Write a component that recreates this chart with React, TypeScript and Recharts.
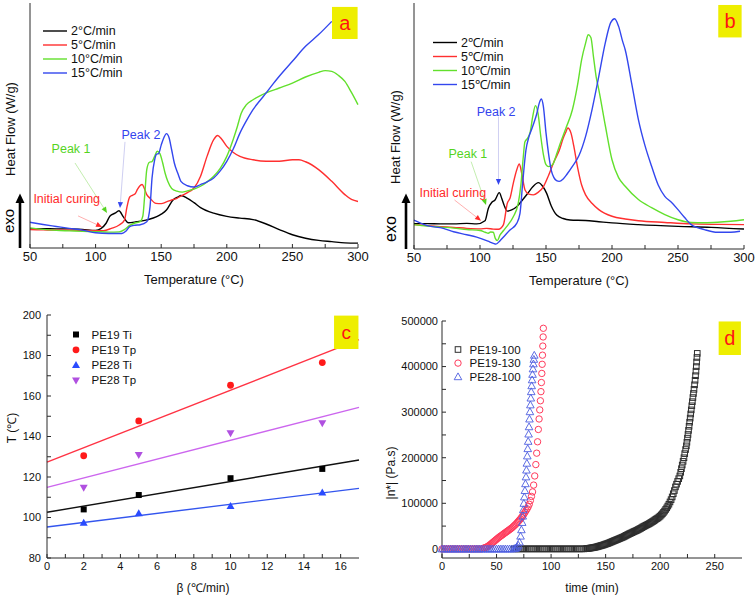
import React from 'react';
import {
  LineChart,
  Line,
  ComposedChart,
  ScatterChart,
  Scatter,
  XAxis,
  YAxis,
  ReferenceLine,
  ReferenceDot,
  ReferenceArea,
} from 'recharts';

type Pair = [number, number];

const FONT = '"Liberation Sans", Arial, Helvetica, sans-serif';
const INK = '#111111';
const FRAME = '#2a2a2a';
const YELLOW = '#eeee00';
const TAG_RED = '#ff1414';

// ---------- panels a / b : DSC heat flow (relative units 0-100) ----------
const tempTicks = [50, 75, 100, 125, 150, 175, 200, 225, 250, 275, 300];
const tempMajor = [50, 100, 150, 200, 250, 300];
const rateNamesA = ['2°C/min', '5°C/min', '10°C/min', '15°C/min'];
const rateNamesB = ['2℃/min', '5℃/min', '10℃/min', '15℃/min'];
const rateColors = ['#000000', '#ff2f2f', '#62e02c', '#3347ee'];

const a2: Pair[] = [
  [50, 7.8], [60, 7.9], [70, 7.8], [80, 7.8], [90, 7.6], [100, 7.2], [104, 7.9], [108, 10.1], [111, 13.1],
  [114.8, 14.2], [117.8, 15.2], [121, 12.8], [125, 10.3], [131, 10.7], [140, 11.6], [146.6, 12.8], [150, 13.8],
  [154, 15.5], [159, 19.6], [163, 20.9], [165, 21.4], [170, 20.3], [175, 18.5], [180, 16.5], [190, 14.2],
  [200, 12.9], [210, 12.2], [220, 11.6], [230, 9.8], [240, 7.5], [250, 5.4], [260, 4.0], [270, 3.1],
  [280, 2.6], [290, 2.1], [300, 2.0],
];
const a5: Pair[] = [
  [50, 7.5], [60, 7.4], [70, 7.3], [80, 7.3], [90, 7.2], [100, 7.1], [106, 7.1], [112, 8.0], [118, 9.4],
  [122, 11.4], [124, 17.0], [126, 20.8], [128, 21.5], [130, 22.0], [132, 24.0], [134, 25.5], [135.5, 25.9],
  [137, 24.5], [139, 21.8], [141.5, 20.3], [146, 18.2], [150, 18.1], [154, 18.8], [158, 19.6], [162, 20.3],
  [166, 21.5], [170, 22.6], [175, 24.5], [180, 29.3], [185, 37.5], [190, 44.2], [193, 45.9], [196, 44.5],
  [200, 41.5], [205, 39.0], [210, 37.4], [220, 36.0], [230, 35.4], [240, 35.4], [250, 36.0], [255, 36.0],
  [260, 35.2], [270, 32.0], [280, 27.2], [290, 21.8], [295, 19.8], [300, 19.0],
];
const a10: Pair[] = [
  [50, 8.2], [60, 7.6], [70, 7.2], [80, 7.0], [90, 6.8], [100, 6.7], [110, 6.5], [118, 6.6], [122, 7.5],
  [126, 9.2], [130, 10.2], [134, 10.8], [136, 13.0], [137.5, 22.0], [139, 32.0], [141, 35.0], [143, 35.3],
  [145, 37.4], [147, 39.5], [149, 38.5], [151, 35.0], [153, 30.5], [155, 27.2], [158, 24.3], [162, 23.2],
  [166, 22.8], [170, 23.3], [175, 24.0], [180, 25.2], [185, 27.0], [190, 29.3], [195, 32.5], [200, 37.4],
  [205, 44.5], [208, 49.5], [211, 55.0], [215, 58.5], [220, 60.5], [230, 63.3], [240, 65.3], [250, 67.3],
  [260, 69.8], [270, 71.7], [275, 72.4], [280, 72.1], [285, 70.5], [290, 68.0], [295, 63.5], [300, 58.5],
];
const a15: Pair[] = [
  [50, 10.5], [60, 9.6], [70, 8.8], [80, 8.0], [90, 7.3], [100, 6.2], [110, 5.9], [120, 5.9], [123, 6.8],
  [126, 8.7], [130, 9.3], [134, 9.5], [139, 10.7], [141.5, 16.9], [143, 28.5], [145, 36.0], [146.5, 38.3],
  [148, 38.5], [150, 42.0], [152, 45.0], [154, 46.7], [156, 45.0], [158, 40.0], [160, 34.7], [163, 30.0],
  [165, 27.2], [170, 25.4], [175, 24.9], [180, 25.9], [185, 27.0], [190, 28.6], [195, 31.5], [200, 35.4],
  [205, 40.5], [210, 46.9], [215, 52.0], [220, 56.5], [225, 60.0], [230, 63.3], [235, 66.8], [240, 70.1],
  [250, 76.2], [260, 82.3], [270, 87.1], [280, 92.5],
];

const b2: Pair[] = [
  [50, 10.3], [60, 10.3], [70, 10.2], [80, 10.2], [90, 10.4], [97.5, 10.2], [103.8, 11.5], [106.3, 16.5],
  [109, 19.0], [111.4, 19.9], [114.6, 22.9], [116.5, 20.5], [118.2, 17.9], [120.7, 15.4], [124, 15.9],
  [127.8, 17.2], [132, 19.8], [136, 22.5], [140, 25.3], [144.2, 27.0], [147.5, 25.5], [150.5, 22.6],
  [154, 17.5], [158.1, 13.8], [163, 12.4], [168.2, 11.8], [180, 11.6], [190, 11.1], [200, 10.6], [220, 9.9],
  [250, 9.2], [275, 8.8], [300, 8.1],
];
const b5: Pair[] = [
  [50, 9.9], [60, 9.5], [70, 9.1], [80, 8.8], [90, 8.4], [100, 8.2], [105, 8.4], [110, 8.1], [114, 8.0],
  [117.7, 9.8], [120.7, 18.6], [122.7, 20.6], [125.2, 26.7], [127.8, 32.1], [129.8, 34.6], [131.6, 30.8],
  [134.1, 24.0], [137, 22.3], [140.4, 22.0], [144, 23.0], [148, 25.3], [152, 30.0], [156, 35.5], [160, 40.0],
  [163, 45.0], [165, 47.5], [166.5, 49.2], [169, 47.0], [171, 42.0], [174, 33.0], [177, 26.0], [180, 22.0],
  [185, 18.5], [190, 16.0], [200, 13.3], [210, 12.2], [220, 11.5], [240, 10.8], [260, 10.2], [280, 10.0],
  [300, 9.9],
];
const b10: Pair[] = [
  [50, 9.9], [60, 9.3], [70, 8.9], [80, 8.5], [90, 7.9], [100, 7.5], [104, 6.8], [106.3, 6.4], [108, 6.9],
  [110.1, 6.8], [111.6, 4.3], [113.1, 3.4], [115.2, 5.7], [118, 7.6], [120.2, 9.1], [125.2, 13.1],
  [129, 18.6], [131.1, 26.7], [132.8, 37.5], [134, 43.5], [136, 45.0], [138, 47.5], [140, 54.0],
  [142, 58.3], [144, 55.0], [146, 46.0], [148, 38.5], [150, 34.3], [152, 33.5], [155, 34.3], [158, 38.5],
  [160, 41.7], [165, 49.0], [170, 56.6], [174, 67.0], [177, 77.0], [180, 83.7], [182, 87.1], [184, 86.0],
  [186, 78.0], [188, 70.0], [190, 64.8], [195, 50.0], [200, 36.3], [205, 29.0], [210, 25.5], [220, 20.1],
  [230, 16.8], [240, 14.0], [250, 11.9], [260, 10.8], [270, 10.7], [280, 10.9], [290, 11.3], [300, 11.9],
];
const b15: Pair[] = [
  [50, 11.7], [55, 10.5], [60, 9.5], [72.2, 8.4], [80, 7.0], [90, 5.8], [97.5, 4.8], [106, 3.2],
  [110.1, 2.3], [112.1, 2.0], [115.2, 3.4], [118, 5.0], [122.7, 7.7], [127.8, 10.4], [130.3, 14.5],
  [132.3, 26.7], [134.8, 40.2], [137, 45.5], [139, 48.5], [141, 51.5], [143, 55.0], [145, 59.5],
  [146.5, 61.0], [148, 58.0], [150, 47.2], [152, 38.5], [154, 32.0], [156, 29.0], [158, 27.8], [160, 27.5],
  [163, 28.5], [166, 30.5], [170, 33.6], [175, 38.0], [180, 45.8], [185, 57.0], [190, 70.2], [195, 84.0],
  [199, 92.0], [202, 93.6], [205, 90.5], [208, 84.5], [210, 81.0], [215, 67.0], [220, 52.6], [225, 42.0],
  [230, 33.6], [235, 26.0], [240, 21.4], [245, 19.0], [250, 16.0], [255, 12.8], [260, 9.9], [270, 7.9],
  [280, 6.8], [290, 6.8], [297, 7.2],
];

// ---------- panel c : onset / peak temperatures vs heating rate ----------
const betaTicks = [0, 1, 2, 3, 4, 5, 6, 7, 8, 9, 10, 11, 12, 13, 14, 15, 16];
const betaMajor = [0, 2, 4, 6, 8, 10, 12, 14, 16];
const tAxisTicks = [80, 90, 100, 110, 120, 130, 140, 150, 160, 170, 180, 190, 200];
const tAxisMajor = [80, 100, 120, 140, 160, 180, 200];
const betaValues = [2, 5, 10, 15];
const pe19Ti = [104.0, 111.1, 119.4, 124.0];
const pe19Tp = [130.5, 147.7, 165.3, 176.5];
const pe28Ti = [97.4, 102.1, 105.7, 112.4];
const pe28Tp = [114.7, 130.9, 141.6, 146.5];
const fitEnds = [0, 17];
const fit19Ti = [102.6, 128.4];
const fit19Tp = [127.3, 187.8];
const fit28Ti = [95.3, 114.4];
const fit28Tp = [114.9, 154.4];
const kinNames = ['PE19 Ti', 'PE19 Tp', 'PE28 Ti', 'PE28 Tp'];

// ---------- panel d : complex viscosity vs time ----------
const timeTicks = [0, 25, 50, 75, 100, 125, 150, 175, 200, 225, 250];
const timeMajor = [0, 50, 100, 150, 200, 250];
const etaTicks = [0, 50000, 100000, 150000, 200000, 250000, 300000, 350000, 400000, 450000, 500000];
const etaMajor = [0, 100000, 200000, 300000, 400000, 500000];
const viscNames = ['PE19-100', 'PE19-130', 'PE28-100'];

const pe19_100: Pair[] = [
  [66, 0], [68, 0], [70, 0], [72, 0], [74, 0], [76, 0], [78, 0], [80, 0], [82, 0], [84, 0], [86, 0], [88, 0],
  [90, 0], [92, 0], [94, 0], [96, 0], [98, 0], [100, 0], [102, 0], [104, 0], [106, 0], [108, 0], [110, 0],
  [112, 0], [114, 0], [116, 0], [118, 0], [120, 0], [122, 0], [124, 0], [126, 0], [128, 0], [130, 0],
  [132, 500], [133, 800], [134, 1000], [135, 1400], [136, 1800], [137, 2200], [138, 2500], [139, 3000],
  [140, 3500], [141, 4000], [142, 4500], [143, 5200], [144, 6000], [145, 6600], [146, 7300], [147, 8000],
  [148, 8700], [149, 9600], [150, 10500], [151, 11200], [152, 12000], [153, 13000], [154, 14000],
  [155, 15000], [156, 16000], [157, 17000], [158, 18000], [159, 19000], [160, 20000], [161, 21000],
  [162, 22000], [163, 23000], [164, 24000], [165, 25000], [166, 26000], [167, 27200], [168, 28500],
  [169, 29800], [170, 31000], [171, 32200], [172, 33500], [173, 34500], [174, 35500], [175, 36800],
  [176, 38000], [177, 39000], [178, 40000], [179, 41200], [180, 42500], [181, 43800], [182, 45000],
  [183, 46500], [184, 48000], [185, 49200], [186, 50500], [187, 51800], [188, 53000], [189, 54200],
  [190, 55500], [191, 57000], [192, 58500], [193, 60000], [194, 61500], [195, 63200], [196, 65000],
  [197, 66500], [198, 68000], [199, 70000], [200, 72000], [201, 74500], [202, 77000], [203, 80000],
  [204, 83000], [205, 86500], [206, 90000], [207, 94000], [208, 98000], [209, 103000], [210, 108000],
  [211, 114000], [212, 121000], [213, 128000], [214, 136000], [215, 142000], [216, 148000], [217, 154000],
  [218, 160000], [218.8, 168000], [219.5, 176000], [220.2, 184000], [221, 192000], [221.8, 200000],
  [222.5, 209000], [223.3, 218000], [224, 226000], [224.5, 234000], [225, 243000], [225.5, 251000],
  [226, 260000], [226.5, 269000], [227, 278000], [227.5, 287000], [228, 296000], [228.5, 305000],
  [229, 314000], [229.5, 323000], [230, 332000], [230.5, 341000], [231, 350000], [231.5, 360000],
  [232, 370000], [232.4, 380000], [232.8, 390000], [233.1, 400000], [233.4, 410000], [233.7, 420000],
  [234, 429000],
];
const pe19_130: Pair[] = [
  [0, 0], [2, 0], [4, 0], [6, 0], [8, 0], [10, 0], [12, 0], [14, 0], [16, 0], [18, 0], [20, 0], [22, 0],
  [24, 0], [26, 0], [28, 0], [30, 0], [32, 0], [34, 0], [36, 0], [38, 1500], [39, 2200], [40, 3000],
  [41, 4200], [42, 5500], [43, 7200], [44, 9000], [45, 11000], [46, 13000], [47, 15000], [48, 17000],
  [49, 19000], [50, 21000], [51, 23000], [52, 25000], [53, 26800], [54, 28500], [55, 30200], [56, 32000],
  [57, 33800], [58, 35500], [59, 37200], [60, 39000], [61, 40700], [62, 42500], [63, 44200], [64, 46000],
  [65, 48200], [66, 50500], [67, 52700], [68, 55000], [69, 57700], [70, 60500], [71, 63200], [72, 66000],
  [73, 69200], [74, 72500], [75, 76200], [76, 80000], [77, 84000], [78, 88000], [79, 92500], [80, 98000],
  [81, 106000], [82, 115000], [83, 125000], [84, 140000], [85, 160000], [86, 185000], [86.8, 210000],
  [87.6, 235000], [88.3, 262000], [89, 285000], [89.6, 305000], [90.2, 325000], [90.7, 345000],
  [91.1, 365000], [91.5, 385000], [91.8, 405000], [92.1, 425000], [92.4, 445000], [92.7, 465000],
  [92.9, 484000],
];
const pe28_100: Pair[] = [
  [0, 0], [2, 0], [4, 0], [6, 0], [8, 0], [10, 0], [12, 0], [14, 0], [16, 0], [18, 0], [20, 0], [22, 0],
  [24, 0], [26, 0], [28, 0], [30, 0], [32, 0], [34, 0], [36, 0], [38, 0], [40, 0], [42, 0], [44, 0],
  [46, 0], [48, 0], [50, 0], [52, 0], [54, 0], [56, 0], [58, 0], [60, 0], [62, 0], [64, 0], [66, 500],
  [67, 1200], [68, 2000], [69, 4000], [70, 8000], [71, 15000], [72, 28000], [72.8, 42000], [73.5, 58000],
  [74, 72000], [74.5, 86000], [75, 100000], [75.5, 114000], [76, 128000], [76.5, 143000], [77, 158000],
  [77.4, 173000], [77.8, 188000], [78.2, 204000], [78.6, 220000], [79, 236000], [79.4, 252000],
  [79.8, 268000], [80.2, 285000], [80.6, 301000], [81, 316000], [81.4, 331000], [81.8, 345000],
  [82.2, 358000], [82.6, 371000], [83, 383000], [83.4, 395000], [83.8, 406000], [84.2, 416000],
  [84.6, 425000],
];

const toXY = (pairs: Pair[]) => pairs.map(([x, y]) => ({ x, y }));
const zipXY = (xs: number[], ys: number[]) => xs.map((x, i) => ({ x, y: ys[i] }));
const onlyMajor = (majors: number[]) => (v: number) => (majors.includes(v) ? String(v) : '');

const tickFont = (size: number) => ({ fontSize: size, fill: INK, fontFamily: FONT });

// thin annotation arrow with a coloured head
const arrowShape = (stem: string, head: string) => (p: any) => {
  const { x1, y1, x2, y2 } = p;
  const a = Math.atan2(y2 - y1, x2 - x1);
  const bx = x2 - 6 * Math.cos(a);
  const by = y2 - 6 * Math.sin(a);
  const s = Math.sin(a) * 2.6;
  const c = Math.cos(a) * 2.6;
  return (
    <g>
      <line x1={x1} y1={y1} x2={bx} y2={by} stroke={stem} strokeWidth={1} />
      <polygon points={`${x2},${y2} ${bx - s},${by + c} ${bx + s},${by - c}`} fill={head} />
    </g>
  );
};

const textShape = (text: string, color: string, size: number) => (p: any) => (
  <text x={p.cx} y={p.cy} fill={color} fontSize={size} fontFamily={FONT} textAnchor="middle" dominantBaseline="central">
    {text}
  </text>
);

type Note = { text: string; color: string; at: Pair; from: Pair; to: Pair; stem: string };

const notesA: Note[] = [
  { text: 'Initial curing', color: '#ff2a2a', at: [78, 20], from: [86.6, 13.1], to: [104.9, 8.6], stem: '#ffb0b0' },
  { text: 'Peak 1', color: '#55d41e', at: [81.3, 40.4], from: [84.3, 34.7], to: [108.7, 14.3], stem: '#c4eeb0' },
  { text: 'Peak 2', color: '#3344ee', at: [134.6, 46.1], from: [122.4, 43.3], to: [118.6, 16.3], stem: '#cfcff2' },
];
const notesB: Note[] = [
  { text: 'Initial curing', color: '#ff2a2a', at: [79.5, 22.9], from: [80.7, 19.9], to: [100.8, 11.5], stem: '#ffb0b0' },
  { text: 'Peak 1', color: '#55d41e', at: [90.8, 38.6], from: [93.3, 35.5], to: [104.6, 17.9], stem: '#c4eeb0' },
  { text: 'Peak 2', color: '#3344ee', at: [112.2, 55.6], from: [114, 53.8], to: [114, 26.0], stem: '#cfcff2' },
];

type DscProps = {
  curves: Pair[][];
  names: string[];
  tag: string;
  tagBox: [number, number, number, number];
  yAxisWidth: number;
  right: number;
  bottom: number;
  legendX: number;
  legendY: number;
  notes: Note[];
  exoX: number;
  exoText: Pair;
  exoSize: number;
  title: Pair;
};

function DscPanel({ curves, names, tag, tagBox, yAxisWidth, right, bottom, legendX, legendY, notes, exoX, exoText, exoSize, title }: DscProps) {
  const plotBottom = 300 - bottom - 40;
  return (
    <LineChart width={378} height={300} margin={{ top: 3, right, bottom, left: 0 }}>
      <XAxis
        type="number"
        dataKey="x"
        domain={[50, 300]}
        ticks={tempTicks}
        interval={0}
        tickFormatter={onlyMajor(tempMajor)}
        tickSize={-4}
        tickMargin={7.5}
        height={40}
        axisLine={{ stroke: FRAME }}
        tickLine={{ stroke: FRAME }}
        tick={tickFont(13)}
        label={{ value: 'Temperature (°C)', position: 'insideBottom', offset: 4, fill: INK, fontSize: 13, fontFamily: FONT }}
      />
      <XAxis xAxisId="top" orientation="top" type="number" domain={[50, 300]} height={0} tick={false} tickLine={false} axisLine={{ stroke: FRAME }} />
      <YAxis type="number" domain={[0, 100]} width={yAxisWidth} tick={false} tickLine={false} axisLine={{ stroke: FRAME }} />
      <YAxis yAxisId="right" orientation="right" type="number" domain={[0, 100]} width={0} tick={false} tickLine={false} axisLine={{ stroke: FRAME }} />
      {curves.map((c, i) => (
        <Line
          key={names[i]}
          data={toXY(c)}
          dataKey="y"
          type="monotone"
          stroke={rateColors[i]}
          strokeWidth={1.4}
          dot={false}
          isAnimationActive={false}
        />
      ))}
      {notes.map((n) => (
        <ReferenceLine
          key={`arrow-${n.text}`}
          segment={[{ x: n.from[0], y: n.from[1] }, { x: n.to[0], y: n.to[1] }]}
          shape={arrowShape(n.stem, n.color)}
        />
      ))}
      {notes.map((n) => (
        <ReferenceDot key={`note-${n.text}`} x={n.at[0]} y={n.at[1]} r={0} shape={textShape(n.text, n.color, 12.5)} />
      ))}
      <ReferenceArea
        x1={tagBox[0]}
        x2={tagBox[1]}
        y1={tagBox[2]}
        y2={tagBox[3]}
        fill={YELLOW}
        fillOpacity={1}
        stroke="none"
        zIndex={1000}
        label={{ value: tag, position: 'center', fill: TAG_RED, fontSize: 20, fontFamily: FONT }}
      />
      {/* legend */}
      {names.map((name, i) => (
        <g key={`lg-${name}`}>
          <line x1={legendX} x2={legendX + 24} y1={legendY + i * 14} y2={legendY + i * 14} stroke={rateColors[i]} strokeWidth={1.4} />
          <text x={legendX + 28} y={legendY + i * 14} dominantBaseline="central" fontSize={12.5} fontFamily={FONT} fill={INK}>
            {name}
          </text>
        </g>
      ))}
      {/* axis title and exo arrow */}
      <text transform={`translate(${title[0]},${title[1]}) rotate(-90)`} textAnchor="middle" dominantBaseline="central" fontSize={13} fontFamily={FONT} fill={INK}>
        Heat Flow (W/g)
      </text>
      <text transform={`translate(${exoText[0]},${exoText[1]}) rotate(-90)`} textAnchor="middle" dominantBaseline="central" fontSize={exoSize} fontFamily={FONT} fill="#000">
        exo
      </text>
      <line x1={exoX} x2={exoX} y1={plotBottom} y2={202} stroke="#000" strokeWidth={2.6} />
      <polygon points={`${exoX - 4.5},203 ${exoX + 4.5},203 ${exoX},193.5`} fill="#000" />
    </LineChart>
  );
}

const squareFilled = (color: string) => (p: any) => <rect x={p.cx - 3} y={p.cy - 3} width={6} height={6} fill={color} />;
const circleFilled = (color: string) => (p: any) => <circle cx={p.cx} cy={p.cy} r={3.4} fill={color} />;
const triUpFilled = (color: string) => (p: any) => (
  <polygon points={`${p.cx},${p.cy - 4} ${p.cx - 4},${p.cy + 3} ${p.cx + 4},${p.cy + 3}`} fill={color} />
);
const triDownFilled = (color: string) => (p: any) => (
  <polygon points={`${p.cx},${p.cy + 4} ${p.cx - 4},${p.cy - 3} ${p.cx + 4},${p.cy - 3}`} fill={color} />
);

const kinPoints = [pe19Ti, pe19Tp, pe28Ti, pe28Tp];
const kinFits = [fit19Ti, fit19Tp, fit28Ti, fit28Tp];
const kinMarkColors = ['#000000', '#ff1a1a', '#2a4bff', '#b050e0'];
const kinLineColors = ['#111111', '#ff3344', '#3355ee', '#cc66ee'];
const kinShapes = [squareFilled, circleFilled, triUpFilled, triDownFilled];

function KineticsPanel() {
  return (
    <ComposedChart width={378} height={297} margin={{ top: 15, right: 19, bottom: 3, left: 7 }}>
      <XAxis
        type="number"
        dataKey="x"
        domain={[0, 17]}
        ticks={betaTicks}
        interval={0}
        tickFormatter={onlyMajor(betaMajor)}
        tickSize={-4}
        tickMargin={8.5}
        height={36}
        axisLine={{ stroke: FRAME }}
        tickLine={{ stroke: FRAME }}
        tick={tickFont(11)}
        label={{ value: 'β (℃/min)', position: 'insideBottom', offset: 2.5, fill: INK, fontSize: 12, fontFamily: FONT }}
      />
      <XAxis xAxisId="top" orientation="top" type="number" domain={[0, 17]} height={0} tick={false} tickLine={false} axisLine={{ stroke: FRAME }} />
      <YAxis
        type="number"
        dataKey="y"
        domain={[80, 200]}
        ticks={tAxisTicks}
        interval={0}
        tickFormatter={onlyMajor(tAxisMajor)}
        tickSize={-4}
        tickMargin={10}
        width={40}
        axisLine={{ stroke: FRAME }}
        tickLine={{ stroke: FRAME }}
        tick={tickFont(11)}
      />
      <YAxis yAxisId="right" orientation="right" type="number" domain={[80, 200]} width={0} tick={false} tickLine={false} axisLine={{ stroke: FRAME }} />
      {kinFits.map((f, i) => (
        <Line
          key={`fit-${kinNames[i]}`}
          data={zipXY(fitEnds, f)}
          dataKey="y"
          type="linear"
          stroke={kinLineColors[i]}
          strokeWidth={1.4}
          dot={false}
          isAnimationActive={false}
        />
      ))}
      {kinPoints.map((pts, i) => (
        <Scatter
          key={`pts-${kinNames[i]}`}
          data={zipXY(betaValues, pts)}
          dataKey="y"
          shape={kinShapes[i](kinMarkColors[i])}
          isAnimationActive={false}
        />
      ))}
      <ReferenceArea
        x1={15.64}
        x2={16.97}
        y1={183.2}
        y2={199.7}
        fill={YELLOW}
        fillOpacity={1}
        stroke="none"
        zIndex={1000}
        label={{ value: 'c', position: 'center', fill: TAG_RED, fontSize: 19, fontFamily: FONT }}
      />
      {kinNames.map((name, i) => {
        const y = 34.5 + i * 15.3;
        const Shape = kinShapes[i](kinMarkColors[i]);
        return (
          <g key={`lg-${name}`}>
            {Shape({ cx: 76, cy: y })}
            <text x={91.5} y={y} dominantBaseline="central" fontSize={11.5} fontFamily={FONT} fill={INK}>
              {name}
            </text>
          </g>
        );
      })}
      <text transform="translate(12,128) rotate(-90)" textAnchor="middle" dominantBaseline="central" fontSize={12} fontFamily={FONT} fill={INK}>
        T (℃)
      </text>
    </ComposedChart>
  );
}

const squareHollow = (color: string) => (p: any) => (
  <rect x={p.cx - 2.8} y={p.cy - 2.8} width={5.6} height={5.6} fill="none" stroke={color} strokeWidth={1} />
);
const circleHollow = (color: string) => (p: any) => <circle cx={p.cx} cy={p.cy} r={3.2} fill="none" stroke={color} strokeWidth={1} />;
const triHollow = (color: string) => (p: any) => (
  <polygon points={`${p.cx},${p.cy - 3.8} ${p.cx - 3.8},${p.cy + 3} ${p.cx + 3.8},${p.cy + 3}`} fill="none" stroke={color} strokeWidth={0.9} />
);

const viscSeries = [pe19_100, pe19_130, pe28_100];
const viscColors = ['#2e2e2e', '#ff3b5c', '#4d5ee0'];
const viscShapes = [squareHollow, circleHollow, triHollow];

function ViscosityPanel() {
  return (
    <ScatterChart width={378} height={297} margin={{ top: 21, right: 14, bottom: 3, left: 10 }}>
      <XAxis
        type="number"
        dataKey="x"
        domain={[0, 275]}
        ticks={timeTicks}
        interval={0}
        tickFormatter={onlyMajor(timeMajor)}
        tickSize={-4}
        tickMargin={8.5}
        height={36}
        axisLine={{ stroke: FRAME }}
        tickLine={{ stroke: FRAME }}
        tick={tickFont(11)}
        label={{ value: 'time (min)', position: 'insideBottom', offset: 2.5, fill: INK, fontSize: 12, fontFamily: FONT }}
      />
      <XAxis xAxisId="top" orientation="top" type="number" domain={[0, 275]} height={0} tick={false} tickLine={false} axisLine={{ stroke: FRAME }} />
      <YAxis
        type="number"
        dataKey="y"
        domain={[-20000, 500000]}
        ticks={etaTicks}
        interval={0}
        tickFormatter={onlyMajor(etaMajor)}
        tickSize={-4}
        tickMargin={8}
        width={54}
        axisLine={{ stroke: FRAME }}
        tickLine={{ stroke: FRAME }}
        tick={tickFont(11)}
      />
      <YAxis yAxisId="right" orientation="right" type="number" domain={[-20000, 500000]} width={0} tick={false} tickLine={false} axisLine={{ stroke: FRAME }} />
      {viscSeries.map((s, i) => (
        <Scatter
          key={viscNames[i]}
          data={toXY(s)}
          dataKey="y"
          shape={viscShapes[i](viscColors[i])}
          isAnimationActive={false}
        />
      ))}
      <ReferenceArea
        x1={253.6}
        x2={274}
        y1={425400}
        y2={499000}
        fill={YELLOW}
        fillOpacity={1}
        stroke="none"
        zIndex={1000}
        label={{ value: 'd', position: 'center', fill: TAG_RED, fontSize: 20, fontFamily: FONT }}
      />
      {viscNames.map((name, i) => {
        const y = 49.5 + i * 13.6;
        const Shape = viscShapes[i](viscColors[i]);
        return (
          <g key={`lg-${name}`}>
            {Shape({ cx: 80, cy: y })}
            <text x={91.5} y={y} dominantBaseline="central" fontSize={11.5} fontFamily={FONT} fill={INK}>
              {name}
            </text>
          </g>
        );
      })}
      <text transform="translate(12.5,173) rotate(-90)" textAnchor="middle" dominantBaseline="central" fontSize={12} fontFamily={FONT} fill={INK}>
        |n*| (Pa.s)
      </text>
    </ScatterChart>
  );
}

export default function App() {
  return (
    <div style={{ position: 'absolute', left: 0, top: 0, width: 756, height: 597, background: '#fff', fontFamily: FONT }}>
      <div style={{ position: 'absolute', left: 0, top: 0 }}>
        <DscPanel
          curves={[a2, a5, a10, a15]}
          names={rateNamesA}
          tag="a"
          tagBox={[280.2, 299.7, 85.3, 98.4]}
          yAxisWidth={30}
          right={20}
          bottom={12}
          legendX={43}
          legendY={31}
          notes={notesA}
          exoX={20}
          exoText={[8, 221]}
          exoSize={15}
          title={[10, 129]}
        />
      </div>
      <div style={{ position: 'absolute', left: 378, top: 0 }}>
        <DscPanel
          curves={[b2, b5, b10, b15]}
          names={rateNamesB}
          tag="b"
          tagBox={[280.5, 298.2, 86, 99.2]}
          yAxisWidth={36}
          right={12}
          bottom={11}
          legendX={55}
          legendY={42.5}
          notes={notesB}
          exoX={28}
          exoText={[12.5, 229]}
          exoSize={16}
          title={[17, 137]}
        />
      </div>
      <div style={{ position: 'absolute', left: 0, top: 300 }}>
        <KineticsPanel />
      </div>
      <div style={{ position: 'absolute', left: 378, top: 300 }}>
        <ViscosityPanel />
      </div>
    </div>
  );
}
